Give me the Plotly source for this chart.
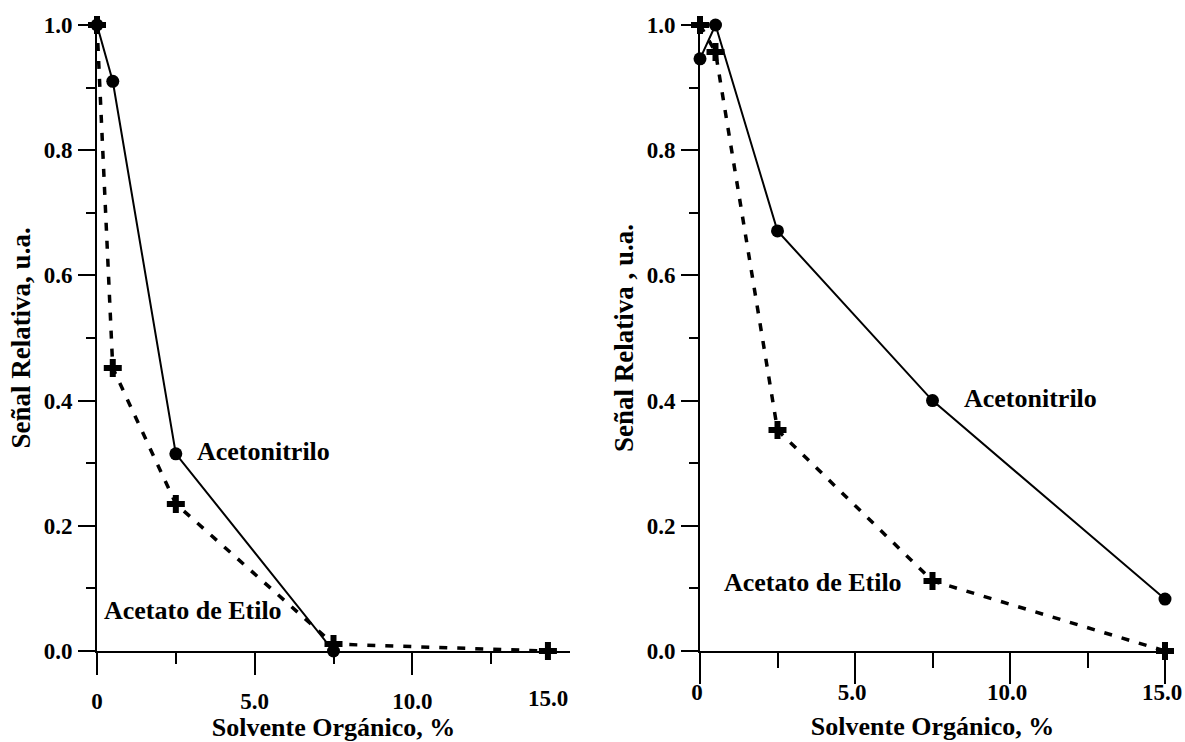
import plotly.graph_objects as go

# ---- data ----
# panel (a)
a_acn_x = [0, 0.5, 2.5, 7.5]
a_acn_y = [1.0, 0.91, 0.315, 0.0]
a_aet_x = [0, 0.5, 2.5, 7.5, 14.3]
a_aet_y = [1.0, 0.452, 0.235, 0.011, 0.0]
# panel (b)
b_acn_x = [0, 0.5, 2.5, 7.5, 15]
b_acn_y = [0.946, 1.0, 0.671, 0.40, 0.083]
b_aet_x = [0, 0.5, 2.5, 7.5, 15]
b_aet_y = [1.0, 0.957, 0.353, 0.112, 0.0]

x_major = [0, 5, 10, 15]
x_major_text = ["0", "5.0", "10.0", "15.0"]
x_minor = [2.5, 7.5, 12.5]
y_major = [0, 0.2, 0.4, 0.6, 0.8, 1.0]
y_major_text = ["0.0", "0.2", "0.4", "0.6", "0.8", "1.0"]
y_minor = [0.1, 0.3, 0.5, 0.7, 0.9]

FONT = "Liberation Serif"
BLACK = "#000000"

fig = go.Figure()

def solid(x, y, xa, ya):
    fig.add_trace(go.Scatter(
        x=x, y=y, xaxis=xa, yaxis=ya, mode="lines+markers", cliponaxis=False,
        line=dict(color=BLACK, width=2),
        marker=dict(symbol="circle", size=13, color=BLACK),
        showlegend=False, name="Acetonitrilo"))

def dashed(x, y, xa, ya):
    fig.add_trace(go.Scatter(
        x=x, y=y, xaxis=xa, yaxis=ya, mode="lines+markers", cliponaxis=False,
        line=dict(color=BLACK, width=3.5, dash="8px,10px"),
        marker=dict(symbol="cross", size=15, color=BLACK),
        showlegend=False, name="Acetato de Etilo"))

dashed(a_aet_x, a_aet_y, "x", "y")
solid(a_acn_x, a_acn_y, "x", "y")
dashed(b_aet_x, b_aet_y, "x2", "y2")
solid(b_acn_x, b_acn_y, "x2", "y2")

W, H = 1185, 742
def px_x(p):
    return p / W
def px_y(p):
    return 1 - p / H

def xaxis(domain, anchor, ticklen, standoff, title_standoff, tickvals, ticktext, shift):
    return dict(
        domain=domain, anchor=anchor, range=[0, 15],
        showline=True, linecolor=BLACK, linewidth=2, mirror=False,
        showgrid=False, zeroline=False,
        tickmode="array", tickvals=tickvals, ticktext=ticktext,
        ticks="outside", ticklen=ticklen, tickwidth=2, tickcolor=BLACK,
        minor=dict(tickmode="array", tickvals=x_minor, ticks="outside",
                   ticklen=ticklen // 2, tickwidth=2, tickcolor=BLACK, showgrid=False),
        tickfont=dict(family=FONT, size=23, color=BLACK, weight="bold"),
        ticklabelstandoff=standoff, ticklabelshift=shift, ticklabeloverflow="allow",
        title=dict(text="Solvente Orgánico, %", standoff=title_standoff,
                   font=dict(family=FONT, size=26, color=BLACK, weight="bold")),
        automargin=False, fixedrange=True)

def yaxis(domain, anchor, title):
    return dict(
        domain=domain, anchor=anchor, range=[0, 1],
        showline=True, linecolor=BLACK, linewidth=2,
        showgrid=False, zeroline=False,
        tickmode="array", tickvals=y_major, ticktext=y_major_text,
        ticks="outside", ticklen=17, tickwidth=2, tickcolor=BLACK,
        minor=dict(tickmode="array", tickvals=y_minor, ticks="outside",
                   ticklen=9, tickwidth=2, tickcolor=BLACK, showgrid=False),
        tickfont=dict(family=FONT, size=23, color=BLACK, weight="bold"),
        ticklabelstandoff=1,
        title=dict(text=title, standoff=5,
                   font=dict(family=FONT, size=27, color=BLACK, weight="bold")),
        automargin=False, fixedrange=True)

ydom = [px_y(651), px_y(25)]
fig.update_layout(
    width=W, height=H,
    margin=dict(l=0, r=0, t=0, b=0),
    paper_bgcolor="white", plot_bgcolor="white",
    xaxis=xaxis([px_x(97), px_x(570)], "y", 22, 6, 5, x_major[:3], x_major_text[:3], 0),
    yaxis=yaxis(ydom, "x", "Señal Relativa, u.a."),
    xaxis2=xaxis([px_x(700), px_x(1165)], "y2", 31, -12, 13, x_major, x_major_text, -3),
    yaxis2=yaxis(ydom, "x2", "Señal Relativa , u.a."),
)

lab_font = dict(family=FONT, size=26, color=BLACK, weight="bold")
ann = [
    dict(text="Acetonitrilo", x=3.1, y=0.318, xref="x", yref="y", xanchor="left", yanchor="middle"),
    dict(text="Acetato de Etilo", x=0.15, y=0.065, xref="x", yref="y", xanchor="left", yanchor="middle"),
    dict(text="Acetonitrilo", x=8.45, y=0.404, xref="x2", yref="y2", xanchor="left", yanchor="middle"),
    dict(text="Acetato de Etilo", x=0.72, y=0.109, xref="x2", yref="y2", xanchor="left", yanchor="middle"),
    dict(text="(a)", x=15.08, y=0.973, xref="x", yref="y", xanchor="right", yanchor="middle"),
    dict(text="(b)", x=15.3, y=0.973, xref="x2", yref="y2", xanchor="right", yanchor="middle"),
    # left-panel "15.0" label, which sits under the last point in the original
    dict(text="15.0", x=14.3, y=px_y(698), xref="x", yref="paper", xanchor="center", yanchor="middle",
         font=dict(family=FONT, size=23, color=BLACK, weight="bold")),
]
for a in ann:
    a.setdefault("font", lab_font)
    a["showarrow"] = False
    fig.add_annotation(**a)

fig.write_html("out.html")
